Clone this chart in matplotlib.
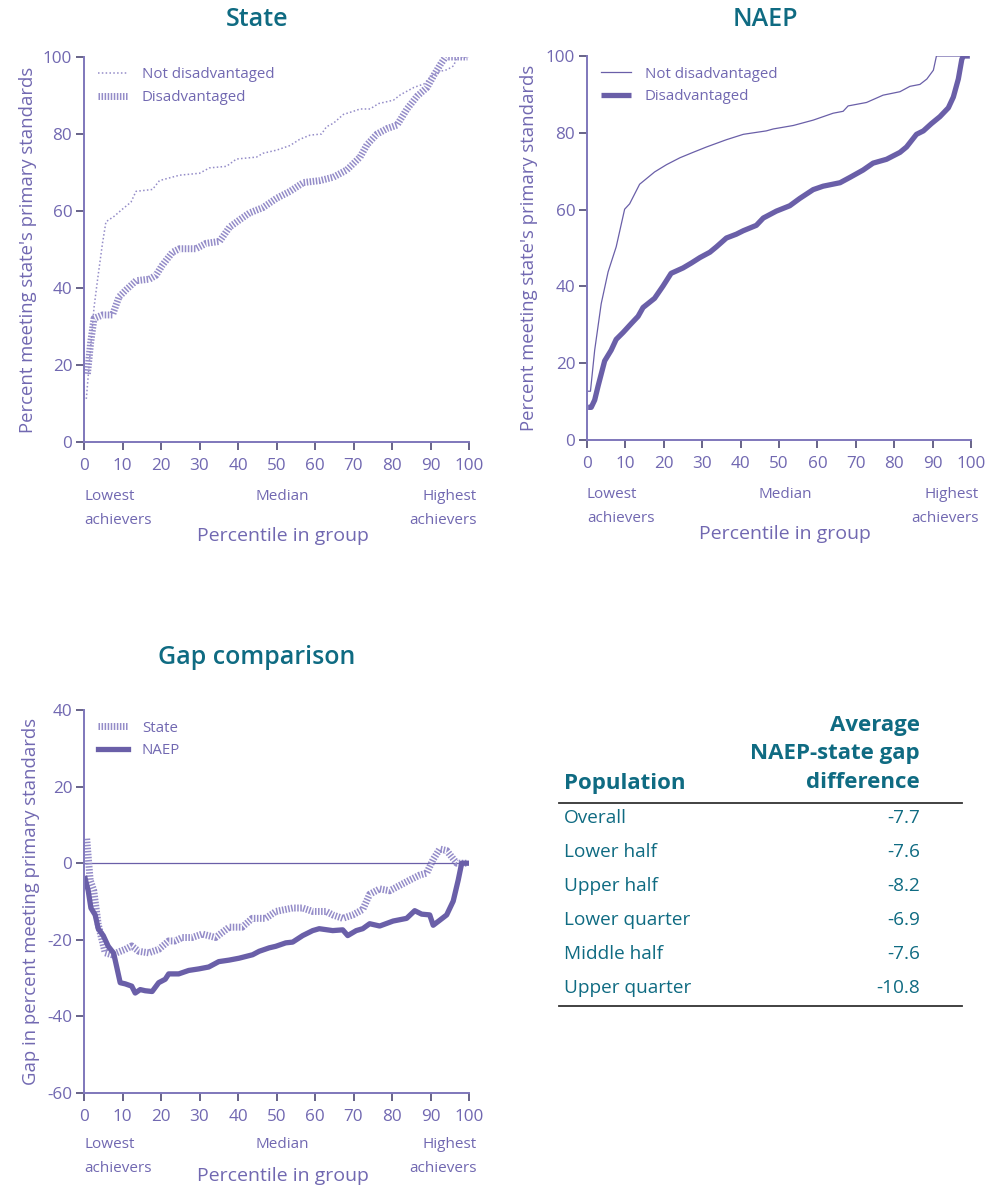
import matplotlib
matplotlib.use("Agg")
import matplotlib.pyplot as plt
from matplotlib.lines import Line2D

plt.rcParams["font.family"] = ["Open Sans", "DejaVu Sans"]
plt.rcParams["axes.unicode_minus"] = False

# =========================
# DATA
# =========================
# State panel
state_nd_x = [0.6, 1.5, 2.6, 3.5, 4.8, 5.7, 7.8, 10, 12.2, 13.5, 17.8, 19.6, 24.8, 30, 32.6, 37,
              39.6, 44.8, 46.5, 50, 53.5, 56, 58.7, 61.7, 63, 64.8, 67.4, 70, 71.7, 74.3, 76.5,
              78.7, 80.4, 82.2, 85.7, 88.3, 90, 92.6, 94.3, 96, 96.9, 100]
state_nd_y = [11.2, 22, 34.9, 42, 51.6, 57.2, 58.6, 60.5, 62.3, 65.1, 65.6, 67.9, 69.3, 69.8, 71.2,
              71.6, 73.5, 74, 75, 75.8, 77, 78.6, 79.7, 80, 81.9, 82.8, 85.1, 85.9, 86.5, 86.5,
              87.9, 88.4, 88.8, 90.2, 92.1, 93, 94.9, 96.3, 96.7, 97.7, 100, 100]

state_d_x = [0.9, 1.7, 2.6, 4.8, 7.4, 9.1, 10.9, 13.5, 17, 18.7, 20.4, 23, 24.8, 29.1, 31.7, 35.2,
             37.8, 40.4, 43, 46.5, 50, 53.5, 57, 61.3, 64.8, 68.3, 71.7, 73.5, 76.1, 78.7, 81.3,
             83.9, 86.5, 89.1, 90.9, 92.6, 93.9, 99.6]
state_d_y = [17.7, 25.6, 32.1, 33, 33, 37.7, 39.5, 41.9, 42.3, 43.3, 46, 49.3, 50.2, 50.2, 51.6,
             52.1, 55.8, 57.7, 59.5, 60.9, 63.3, 65.1, 67.4, 67.9, 68.8, 70.7, 74, 77.2, 80,
             81.4, 82.3, 86.5, 89.8, 92.1, 95.3, 98.1, 100, 100]

# NAEP panel
naep_nd_x = [0.3, 0.9, 2, 3.7, 5.5, 7.6, 9.8, 11.1, 13.7, 17.6, 20.7, 24.2, 27.6, 31.1, 36.3, 40.7,
             46.7, 48.5, 53.7, 58.9, 64.1, 66.7, 68, 72.8, 77.1, 81.5, 84.1, 86.7, 88.5, 90.2,
             91, 99.3]
naep_nd_y = [12.7, 12.7, 23.4, 35.5, 43.8, 50.3, 60.1, 61.5, 66.6, 69.8, 71.7, 73.5, 74.9, 76.3,
             78.2, 79.6, 80.5, 81, 81.9, 83.3, 85.1, 85.6, 87, 87.9, 89.8, 90.7, 92.1, 92.6, 94,
             96.3, 100, 100]

naep_d_x = [0.3, 1.1, 2, 2.9, 4.6, 6.3, 7.6, 9.4, 11.6, 13.3, 14.6, 17.6, 19.8, 21.9, 25, 27.2,
            29.4, 32, 33.7, 36.3, 38.9, 40.7, 44.1, 45.9, 49.3, 52.8, 55.4, 58.9, 61.5, 65.9,
            68.5, 71.9, 74.5, 78, 81.5, 83.2, 85.8, 87.6, 89.7, 91.9, 94.1, 95.4, 96.7, 97.6,
            98, 99.7]
naep_d_y = [8.5, 8.5, 10.4, 14.1, 20.6, 23.4, 26.2, 28, 30.4, 32.2, 34.5, 36.9, 40.1, 43.4, 44.8,
            46.1, 47.5, 48.9, 50.3, 52.6, 53.6, 54.5, 55.9, 57.8, 59.6, 61, 62.9, 65.2, 66.1,
            67, 68.4, 70.3, 72.1, 73.1, 74.9, 76.3, 79.6, 80.5, 82.4, 84.2, 86.5, 89.3, 94,
            99.1, 100, 100]

# Gap panel
gap_state_x = [0.7, 1.6, 2.5, 3.7, 5.5, 7.2, 10.7, 12.4, 14.2, 16.8, 19.4, 22, 23.7, 25.5, 28.1,
               30.7, 34.2, 37.7, 41.1, 43.7, 47.2, 49.8, 54.2, 56.8, 59.4, 62.9, 64.6, 67.2,
               69.8, 72.4, 74.2, 76.8, 79.4, 82, 84.6, 87.2, 89, 90.7, 92.4, 94.2, 96.8, 99.4]
gap_state_y = [6.4, -4.4, -7, -16, -23.4, -23.9, -22.5, -21.6, -23, -23.4, -22.5, -20.3, -20.3,
               -19.4, -19.4, -18.5, -19.4, -16.7, -16.7, -14.4, -14.4, -12.6, -11.7, -11.7,
               -12.6, -12.6, -13.5, -14.4, -13.5, -12.1, -8.1, -6.7, -7.2, -5.8, -4.4, -3.1,
               -2.6, 1, 3.7, 3.3, 0, 0]

gap_naep_x = [0.3, 1.1, 1.8, 2.9, 3.7, 5, 6.3, 7.7, 8.5, 9.4, 10.7, 12.4, 13.3, 14.6, 15.9, 17.7,
              19.4, 21.1, 22, 24.6, 27.2, 29.8, 32.4, 35, 37.7, 40.3, 43.8, 45.5, 48.1, 49.8,
              52.4, 54.2, 56.8, 59.4, 61.1, 64.6, 67.2, 68.5, 70.7, 72.4, 74.2, 76.8, 80.3,
              83.8, 85.9, 87.7, 89.8, 90.7, 92.4, 94.2, 95.9, 97.2, 98.1, 99.8]
gap_naep_y = [-4, -7.2, -11.7, -13.5, -17.1, -18.9, -21.7, -23.5, -27.1, -31.2, -31.5, -32.1,
              -33.9, -33, -33.3, -33.5, -31.2, -30.3, -28.9, -28.9, -28, -27.6, -27.1, -25.7,
              -25.3, -24.8, -23.9, -23, -22.1, -21.7, -20.8, -20.6, -18.9, -17.6, -17.1, -17.6,
              -17.4, -18.9, -17.6, -17.1, -15.8, -16.4, -15.1, -14.4, -12.4, -13.3, -13.5,
              -16.2, -14.9, -13.5, -9.9, -4.4, 0, 0]

# Table
populations = ["Overall", "Lower half", "Upper half", "Lower quarter", "Middle half", "Upper quarter"]
gap_diff = ["-7.7", "-7.6", "-8.2", "-6.9", "-7.6", "-10.8"]

xticks = [0, 10, 20, 30, 40, 50, 60, 70, 80, 90, 100]

# =========================
# STYLE
# =========================
PURPLE = "#6a5fa8"
AXIS = "#7f77bb"
LIGHT = "#948cc8"
TEXT = "#7168b1"
TEAL = "#0f6b82"

W, H = 990, 1186
fig = plt.figure(figsize=(W / 100, H / 100), dpi=100)


def fx(px):
    return px / W


def fy(px):
    return 1 - px / H


def px_axes(left, top, right, bottom):
    return fig.add_axes([fx(left), fy(bottom), (right - left) / W, (bottom - top) / H])


def style_axes(ax, box, ylim, yticks, ylabel, ylabel_x, offs=(55, 79, 94)):
    left, top, right, bottom = box
    ax.set_xlim(0, 100)
    ax.set_ylim(*ylim)
    ax.set_xticks(xticks)
    ax.set_yticks(yticks)
    for s in ["top", "right"]:
        ax.spines[s].set_visible(False)
    for s in ["left", "bottom"]:
        ax.spines[s].set_color(AXIS)
        ax.spines[s].set_linewidth(1.4)
    ax.tick_params(color="#5c577f", labelcolor=TEXT, labelsize=12.3, length=5.5, width=1.3)
    ax.tick_params(axis="x", pad=6)
    ax.tick_params(axis="y", pad=3)
    ax.set_ylabel(ylabel, color=TEXT, fontsize=13.3)
    ax.yaxis.set_label_coords((ylabel_x - left) / (right - left), 0.5)
    ax.patch.set_alpha(0)
    # lower labels
    o1, o2, o3 = offs
    kw = dict(color=TEXT, fontsize=11, va="center")
    fig.text(fx(left), fy(bottom + o1), "Lowest", ha="left", **kw)
    fig.text(fx(left), fy(bottom + o2), "achievers", ha="left", **kw)
    fig.text(fx((left + right) / 2 + 6), fy(bottom + o1), "Median", ha="center", **kw)
    fig.text(fx(right + 8), fy(bottom + o1), "Highest", ha="right", **kw)
    fig.text(fx(right + 8), fy(bottom + o2), "achievers", ha="right", **kw)
    fig.text(fx((left + right) / 2 + 6), fy(bottom + o3), "Percentile in group", color=TEXT,
             fontsize=14, ha="center", va="center")


hatch = dict(color=LIGHT, lw=5, linestyle=(0, (0.22, 0.22)), dash_capstyle="butt")
leg_kw = dict(loc="upper left", frameon=False, fontsize=10.8, labelcolor=TEXT,
              handlelength=2.0, handletextpad=0.9, labelspacing=0.5, borderaxespad=0.3)

# =========================
# STATE
# =========================
box1 = (84, 57, 469, 442)
ax1 = px_axes(*box1)
style_axes(ax1, box1, (0, 100), [0, 20, 40, 60, 80, 100],
           "Percent meeting state's primary standards", 37)
ax1.plot(state_nd_x, state_nd_y, color=LIGHT, lw=1.1, linestyle=(0, (1, 1.5)),
         label="Not disadvantaged")
ax1.plot(state_d_x, state_d_y, label="Disadvantaged", **hatch)
ax1.legend(bbox_to_anchor=(0.01, 1.0), **leg_kw)
fig.text(fx(257), fy(20), "State", color=TEAL, fontsize=18, fontweight="semibold",
         ha="center", va="center")

# =========================
# NAEP
# =========================
box2 = (587, 56, 971, 440)
ax2 = px_axes(*box2)
style_axes(ax2, box2, (0, 100), [0, 20, 40, 60, 80, 100],
           "Percent meeting state's primary standards", 538)
ax2.plot(naep_nd_x, naep_nd_y, color=PURPLE, lw=0.9, label="Not disadvantaged")
ax2.plot(naep_d_x, naep_d_y, color=PURPLE, lw=3.8, solid_capstyle="butt", label="Disadvantaged")
ax2.legend(bbox_to_anchor=(0.01, 1.0), **leg_kw)
fig.text(fx(765), fy(20), "NAEP", color=TEAL, fontsize=18, fontweight="semibold",
         ha="center", va="center")

# =========================
# GAP
# =========================
box3 = (84, 710, 469, 1093)
ax3 = px_axes(*box3)
style_axes(ax3, box3, (-60, 40), [-60, -40, -20, 0, 20, 40],
           "Gap in percent meeting primary standards", 40, offs=(51, 75, 83))
ax3.axhline(0, color=PURPLE, lw=0.9)
ax3.plot(gap_state_x, gap_state_y, label="State", **hatch)
ax3.plot(gap_naep_x, gap_naep_y, color=PURPLE, lw=3.8, label="NAEP")
ax3.legend(bbox_to_anchor=(0.01, 1.0), **leg_kw)
fig.text(fx(257), fy(658), "Gap comparison", color=TEAL, fontsize=18,
         fontweight="semibold", ha="center", va="center")

# =========================
# TABLE
# =========================
tleft, tright, tval = fx(559), fx(962), fx(920)
hdr = dict(color=TEAL, fontsize=16, fontweight="bold", va="center")
fig.text(fx(564), fy(783), "Population", ha="left", **hdr)
fig.text(tval, fy(725), "Average", ha="right", **hdr)
fig.text(tval, fy(754), "NAEP-state gap", ha="right", **hdr)
fig.text(tval, fy(783), "difference", ha="right", **hdr)
fig.add_artist(Line2D([tleft, tright], [fy(803)] * 2, color="#333333", lw=1.3))
row_top, row_step = 818, 34
for i, (p, v) in enumerate(zip(populations, gap_diff)):
    y = fy(row_top + i * row_step)
    fig.text(fx(564), y, p, color=TEAL, fontsize=13.7, ha="left", va="center")
    fig.text(tval, y, v, color=TEAL, fontsize=13.7, ha="right", va="center")
fig.add_artist(Line2D([tleft, tright], [fy(1006)] * 2, color="#333333", lw=1.3))

fig.savefig("out.png", dpi=100)
